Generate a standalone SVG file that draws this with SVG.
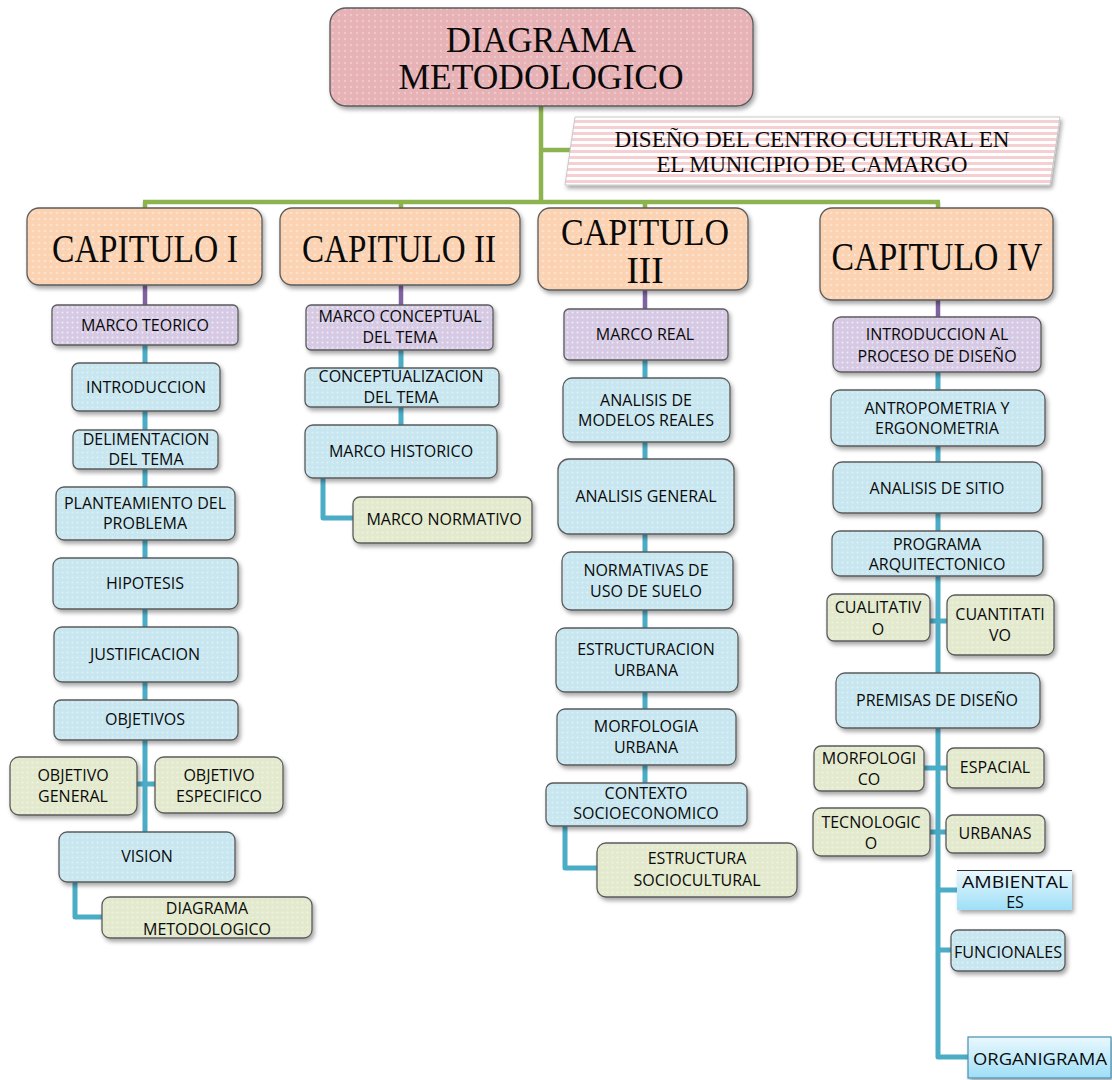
<svg xmlns="http://www.w3.org/2000/svg" width="1112" height="1080" viewBox="0 0 1112 1080">
<style>
.t{font-family:"Open Sans","Liberation Sans",sans-serif;font-size:16px;text-anchor:middle;fill:#0a0a0a}
.s{font-family:"Liberation Serif",serif;text-anchor:middle;fill:#0a0a0a}
.bx{stroke:#5b5b5b;stroke-width:1.3}
.cy{fill:none;stroke:#4bacc6;stroke-width:5;stroke-linejoin:round;stroke-linecap:butt}
.gr{fill:none;stroke:#8db34e;stroke-width:4.5}
.pu{fill:none;stroke:#7f62a0;stroke-width:4.5}
</style>
<defs>
<filter id="sh" x="-10%" y="-10%" width="125%" height="135%">
<feDropShadow dx="2" dy="3" stdDeviation="2" flood-color="#000" flood-opacity="0.35"/>
</filter>
<pattern id="pPink" width="6" height="6" patternUnits="userSpaceOnUse"><rect width="6" height="6" fill="#e6b2b6"/><circle cx="3" cy="3" r="1.2" fill="#f2d0d3" opacity="0.7"/></pattern>
<pattern id="pPeach" width="6" height="6" patternUnits="userSpaceOnUse"><rect width="6" height="6" fill="#fbd3b2"/><circle cx="3" cy="3" r="1.3" fill="#fde6d3" opacity="0.8"/></pattern>
<pattern id="pLav" width="5" height="5" patternUnits="userSpaceOnUse"><rect width="5" height="5" fill="#d6c9e4"/><circle cx="2.5" cy="2.5" r="1" fill="#f4effa" opacity="0.9"/></pattern>
<pattern id="pBlue" width="5" height="5" patternUnits="userSpaceOnUse"><rect width="5" height="5" fill="#c7e6f0"/><circle cx="2.5" cy="2.5" r="1.1" fill="#e3f3f8" opacity="0.8"/></pattern>
<pattern id="pGreen" width="5" height="5" patternUnits="userSpaceOnUse"><rect width="5" height="5" fill="#e2e9cd"/><circle cx="2.5" cy="2.5" r="1.1" fill="#f1f5e6" opacity="0.8"/></pattern>
<pattern id="pStripe" width="8" height="6" patternUnits="userSpaceOnUse"><rect width="8" height="6" fill="#ffffff"/><rect width="8" height="3" fill="#f5cfd2"/></pattern>
<linearGradient id="gAmb" x1="0" y1="0" x2="0" y2="1"><stop offset="0" stop-color="#eaf8fe"/><stop offset="1" stop-color="#9edff7"/></linearGradient>
</defs>

<rect width="1112" height="1080" fill="#ffffff"/>

<g id="connectors">
<path class="gr" d="M541,106 V202 M541,150 H570 M143,202 H940 M145,202 V208 M401,202 V208 M645,202 V208 M938,202 V208"/>
<path class="pu" d="M145,285 V305 M401,285 V305 M645,290 V309 M938,300 V317"/>
<path class="cy" d="M145,345 V832 M137,784 H155 M75,882 V917 H102"/>
<path class="cy" d="M401,350 V425 M323,478 V518 H353"/>
<path class="cy" d="M645,360 V783 M565,826 V868 H597"/>
<path class="cy" d="M938,372 V1057 H968 M930,621 H947 M924,768 H947 M930,832 H946 M938,890 H957 M938,950 H951"/>
</g>

<g id="title">
<rect class="bx" x="330" y="8" width="423" height="98" rx="16" fill="url(#pPink)" filter="url(#sh)"/>
<text class="s" x="541" y="52" font-size="36" textLength="190" lengthAdjust="spacingAndGlyphs">DIAGRAMA</text>
<text class="s" x="541" y="89" font-size="36" textLength="285" lengthAdjust="spacingAndGlyphs">METODOLOGICO</text>
</g>

<g id="subtitle">
<polygon points="575,117 1060,117 1050,185 565,185" fill="url(#pStripe)" stroke="#c8c8c8" stroke-width="1" filter="url(#sh)"/>
<text class="s" x="812" y="147" font-size="24" textLength="395" lengthAdjust="spacingAndGlyphs">DISEÑO  DEL  CENTRO CULTURAL  EN</text>
<text class="s" x="812" y="172" font-size="24" textLength="311" lengthAdjust="spacingAndGlyphs">EL MUNICIPIO DE  CAMARGO</text>
</g>

<g id="cap1">
<rect class="bx" x="27" y="208" width="235" height="77" rx="12" fill="url(#pPeach)" filter="url(#sh)"/>
<text class="s" x="145" y="262" font-size="41" textLength="186" lengthAdjust="spacingAndGlyphs">CAPITULO I</text>
</g>
<g id="cap2">
<rect class="bx" x="280" y="208" width="240" height="77" rx="12" fill="url(#pPeach)" filter="url(#sh)"/>
<text class="s" x="399" y="262" font-size="41" textLength="194" lengthAdjust="spacingAndGlyphs">CAPITULO II</text>
</g>
<g id="cap3">
<rect class="bx" x="538" y="208" width="210" height="82" rx="12" fill="url(#pPeach)" filter="url(#sh)"/>
<text class="s" x="645" y="245" font-size="37" textLength="168" lengthAdjust="spacingAndGlyphs">CAPITULO</text>
<text class="s" x="645" y="283" font-size="37">III</text>
</g>
<g id="cap4">
<rect class="bx" x="820" y="208" width="233" height="92" rx="12" fill="url(#pPeach)" filter="url(#sh)"/>
<text class="s" x="937" y="270" font-size="41" textLength="211" lengthAdjust="spacingAndGlyphs">CAPITULO IV</text>
</g>

<!-- Column I -->
<g id="marco-teorico">
<rect class="bx" x="52" y="305" width="186" height="40" rx="5" fill="url(#pLav)" filter="url(#sh)"/>
<text class="t" x="145" y="331">MARCO TEORICO</text>
</g>
<g id="introduccion">
<rect class="bx" x="72" y="363" width="148" height="48" rx="7" fill="url(#pBlue)" filter="url(#sh)"/>
<text class="t" x="146" y="393">INTRODUCCION</text>
</g>
<g id="delimentacion">
<rect class="bx" x="73" y="430" width="145" height="39" rx="6" fill="url(#pBlue)" filter="url(#sh)"/>
<text class="t" x="146" y="445">DELIMENTACION</text>
<text class="t" x="146" y="465">DEL TEMA</text>
</g>
<g id="planteamiento">
<rect class="bx" x="56" y="487" width="179" height="53" rx="8" fill="url(#pBlue)" filter="url(#sh)"/>
<text class="t" x="145" y="509">PLANTEAMIENTO DEL</text>
<text class="t" x="145" y="529">PROBLEMA</text>
</g>
<g id="hipotesis">
<rect class="bx" x="53" y="558" width="185" height="51" rx="8" fill="url(#pBlue)" filter="url(#sh)"/>
<text class="t" x="145" y="589">HIPOTESIS</text>
</g>
<g id="justificacion">
<rect class="bx" x="54" y="627" width="184" height="55" rx="8" fill="url(#pBlue)" filter="url(#sh)"/>
<text class="t" x="145" y="660">JUSTIFICACION</text>
</g>
<g id="objetivos">
<rect class="bx" x="54" y="700" width="184" height="40" rx="7" fill="url(#pBlue)" filter="url(#sh)"/>
<text class="t" x="145" y="725">OBJETIVOS</text>
</g>
<g id="objetivo-general">
<rect class="bx" x="10" y="757" width="127" height="58" rx="9" fill="url(#pGreen)" filter="url(#sh)"/>
<text class="t" x="73" y="781">OBJETIVO</text>
<text class="t" x="73" y="802">GENERAL</text>
</g>
<g id="objetivo-especifico">
<rect class="bx" x="155" y="757" width="128" height="56" rx="9" fill="url(#pGreen)" filter="url(#sh)"/>
<text class="t" x="219" y="781">OBJETIVO</text>
<text class="t" x="219" y="802">ESPECIFICO</text>
</g>
<g id="vision">
<rect class="bx" x="59" y="832" width="176" height="50" rx="8" fill="url(#pBlue)" filter="url(#sh)"/>
<text class="t" x="147" y="862">VISION</text>
</g>
<g id="diagrama-metodologico">
<rect class="bx" x="102" y="897" width="210" height="41" rx="8" fill="url(#pGreen)" filter="url(#sh)"/>
<text class="t" x="207" y="914">DIAGRAMA</text>
<text class="t" x="207" y="935">METODOLOGICO</text>
</g>

<!-- Column II -->
<g id="marco-conceptual">
<rect class="bx" x="306" y="305" width="187" height="45" rx="5" fill="url(#pLav)" filter="url(#sh)"/>
<text class="t" x="400" y="322">MARCO CONCEPTUAL</text>
<text class="t" x="400" y="343">DEL TEMA</text>
</g>
<g id="conceptualizacion">
<rect class="bx" x="305" y="368" width="194" height="39" rx="6" fill="url(#pBlue)" filter="url(#sh)"/>
<text class="t" x="401" y="382">CONCEPTUALIZACION</text>
<text class="t" x="401" y="403">DEL TEMA</text>
</g>
<g id="marco-historico">
<rect class="bx" x="305" y="425" width="192" height="53" rx="8" fill="url(#pBlue)" filter="url(#sh)"/>
<text class="t" x="401" y="457">MARCO HISTORICO</text>
</g>
<g id="marco-normativo">
<rect class="bx" x="353" y="497" width="179" height="46" rx="7" fill="url(#pGreen)" filter="url(#sh)"/>
<text class="t" x="444" y="525">MARCO NORMATIVO</text>
</g>

<!-- Column III -->
<g id="marco-real">
<rect class="bx" x="564" y="309" width="164" height="51" rx="5" fill="url(#pLav)" filter="url(#sh)"/>
<text class="t" x="645" y="340">MARCO REAL</text>
</g>
<g id="analisis-modelos">
<rect class="bx" x="563" y="378" width="167" height="64" rx="9" fill="url(#pBlue)" filter="url(#sh)"/>
<text class="t" x="646" y="406">ANALISIS DE</text>
<text class="t" x="646" y="426">MODELOS REALES</text>
</g>
<g id="analisis-general">
<rect class="bx" x="558" y="459" width="176" height="75" rx="11" fill="url(#pBlue)" filter="url(#sh)"/>
<text class="t" x="646" y="502">ANALISIS GENERAL</text>
</g>
<g id="normativas">
<rect class="bx" x="562" y="552" width="171" height="58" rx="9" fill="url(#pBlue)" filter="url(#sh)"/>
<text class="t" x="646" y="576">NORMATIVAS DE</text>
<text class="t" x="646" y="597">USO DE SUELO</text>
</g>
<g id="estructuracion">
<rect class="bx" x="556" y="628" width="182" height="64" rx="9" fill="url(#pBlue)" filter="url(#sh)"/>
<text class="t" x="646" y="655">ESTRUCTURACION</text>
<text class="t" x="646" y="676">URBANA</text>
</g>
<g id="morfologia-urbana">
<rect class="bx" x="557" y="709" width="179" height="56" rx="8" fill="url(#pBlue)" filter="url(#sh)"/>
<text class="t" x="646" y="732">MORFOLOGIA</text>
<text class="t" x="646" y="753">URBANA</text>
</g>
<g id="contexto">
<rect class="bx" x="546" y="783" width="201" height="43" rx="7" fill="url(#pBlue)" filter="url(#sh)"/>
<text class="t" x="646" y="799">CONTEXTO</text>
<text class="t" x="646" y="819">SOCIOECONOMICO</text>
</g>
<g id="estructura-sociocultural">
<rect class="bx" x="597" y="843" width="200" height="54" rx="9" fill="url(#pGreen)" filter="url(#sh)"/>
<text class="t" x="697" y="864">ESTRUCTURA</text>
<text class="t" x="697" y="886">SOCIOCULTURAL</text>
</g>

<!-- Column IV -->
<g id="intro-proceso">
<rect class="bx" x="833" y="317" width="208" height="55" rx="8" fill="url(#pLav)" filter="url(#sh)"/>
<text class="t" x="937" y="340">INTRODUCCION AL</text>
<text class="t" x="937" y="362">PROCESO DE DISEÑO</text>
</g>
<g id="antropometria">
<rect class="bx" x="831" y="390" width="214" height="56" rx="9" fill="url(#pBlue)" filter="url(#sh)"/>
<text class="t" x="937" y="414">ANTROPOMETRIA Y</text>
<text class="t" x="937" y="434">ERGONOMETRIA</text>
</g>
<g id="analisis-sitio">
<rect class="bx" x="833" y="462" width="209" height="51" rx="9" fill="url(#pBlue)" filter="url(#sh)"/>
<text class="t" x="937" y="494">ANALISIS DE SITIO</text>
</g>
<g id="programa">
<rect class="bx" x="832" y="531" width="211" height="45" rx="8" fill="url(#pBlue)" filter="url(#sh)"/>
<text class="t" x="937" y="550">PROGRAMA</text>
<text class="t" x="937" y="570">ARQUITECTONICO</text>
</g>
<g id="cualitativo">
<rect class="bx" x="827" y="594" width="103" height="47" rx="7" fill="url(#pGreen)" filter="url(#sh)"/>
<text class="t" x="878" y="613">CUALITATIV</text>
<text class="t" x="878" y="635">O</text>
</g>
<g id="cuantitativo">
<rect class="bx" x="947" y="595" width="107" height="60" rx="8" fill="url(#pGreen)" filter="url(#sh)"/>
<text class="t" x="1000" y="620">CUANTITATI</text>
<text class="t" x="1000" y="641">VO</text>
</g>
<g id="premisas">
<rect class="bx" x="836" y="673" width="204" height="55" rx="9" fill="url(#pBlue)" filter="url(#sh)"/>
<text class="t" x="937" y="706">PREMISAS DE DISEÑO</text>
</g>
<g id="morfologico">
<rect class="bx" x="814" y="746" width="110" height="45" rx="7" fill="url(#pGreen)" filter="url(#sh)"/>
<text class="t" x="869" y="764">MORFOLOGI</text>
<text class="t" x="869" y="785">CO</text>
</g>
<g id="espacial">
<rect class="bx" x="947" y="748" width="97" height="40" rx="7" fill="url(#pGreen)" filter="url(#sh)"/>
<text class="t" x="995" y="773">ESPACIAL</text>
</g>
<g id="tecnologico">
<rect class="bx" x="813" y="808" width="117" height="48" rx="8" fill="url(#pGreen)" filter="url(#sh)"/>
<text class="t" x="871" y="828">TECNOLOGIC</text>
<text class="t" x="871" y="849">O</text>
</g>
<g id="urbanas">
<rect class="bx" x="946" y="815" width="99" height="38" rx="7" fill="url(#pGreen)" filter="url(#sh)"/>
<text class="t" x="995" y="839">URBANAS</text>
</g>
<g id="ambientales">
<rect x="957" y="870" width="115" height="40" fill="url(#gAmb)" filter="url(#sh)"/>
<line x1="957" y1="870.5" x2="1072" y2="870.5" stroke="#333" stroke-width="1"/>
<text class="t" x="1015" y="888" font-size="19" textLength="106" lengthAdjust="spacingAndGlyphs">AMBIENTAL</text>
<text class="t" x="1015" y="908" font-size="19">ES</text>
</g>
<g id="funcionales">
<rect class="bx" x="951" y="930" width="114" height="41" rx="7" fill="url(#pBlue)" filter="url(#sh)"/>
<text class="t" x="1008" y="958" font-size="17" textLength="108" lengthAdjust="spacingAndGlyphs">FUNCIONALES</text>
</g>
<g id="organigrama">
<rect x="968" y="1037" width="143" height="41" fill="url(#gAmb)" stroke="#4a90b0" stroke-width="1.2" filter="url(#sh)"/>
<text class="t" x="1040" y="1065" font-size="22" textLength="134" lengthAdjust="spacingAndGlyphs">ORGANIGRAMA</text>
</g>
</svg>
